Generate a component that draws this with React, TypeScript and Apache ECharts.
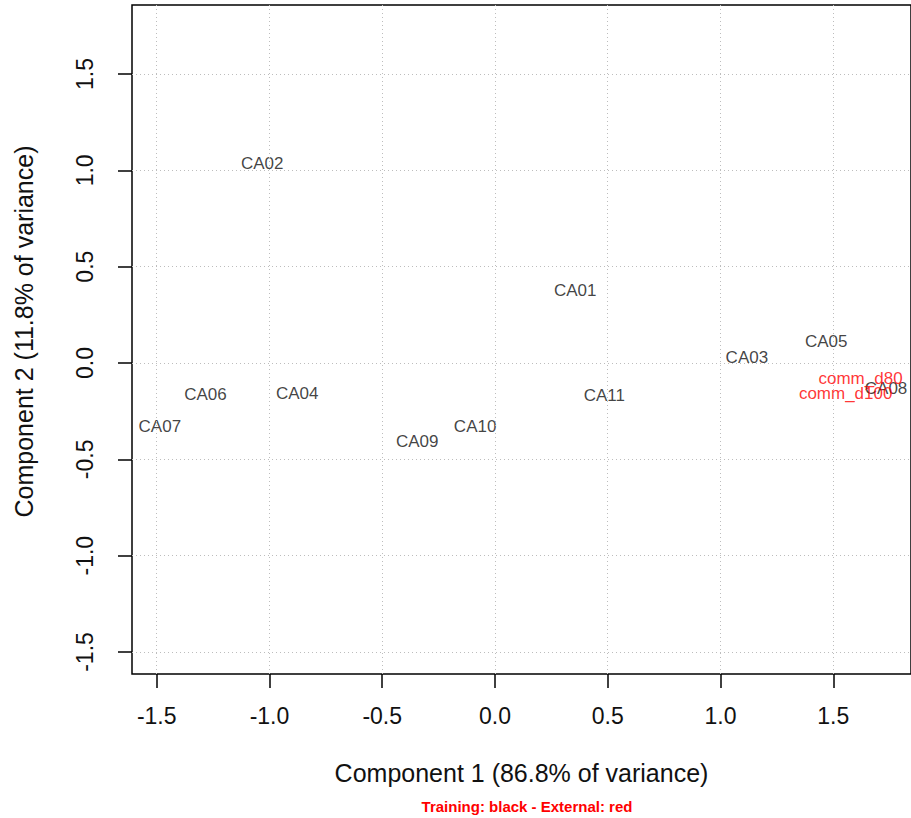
import React, { useEffect, useRef } from "react";
import * as echarts from "echarts";

const trainingNames = ["CA01", "CA02", "CA03", "CA04", "CA05", "CA06", "CA07", "CA08", "CA09", "CA10", "CA11"];
const trainingX = [0.356, -1.032, 1.117, -0.877, 1.469, -1.284, -1.486, 1.734, -0.345, -0.088, 0.485];
const trainingY = [0.374, 1.033, 0.031, -0.156, 0.114, -0.166, -0.332, -0.13, -0.41, -0.332, -0.171];

const externalNames = ["comm_d80", "comm_d100"];
const externalX = [1.621, 1.555];
const externalY = [-0.083, -0.156];

const xTicks = [-1.5, -1.0, -0.5, 0.0, 0.5, 1.0, 1.5];
const yTicks = [-1.5, -1.0, -0.5, 0.0, 0.5, 1.0, 1.5];

const xTitle = "Component 1 (86.8% of variance)";
const yTitle = "Component 2 (11.8% of variance)";
const subtitle = "Training: black - External: red";

export default function App() {
  const ref = useRef<HTMLDivElement>(null);
  useEffect(() => {
    document.body.style.margin = "0";
    if (!ref.current) return;
    const chart = echarts.init(ref.current, null, { renderer: "svg" });
    const font = "'Liberation Sans', Arial, Helvetica, sans-serif";
    const textColor = "#111111";
    const gridLine = { type: [1, 3] as any, color: "#bdbdbd", width: 1 };
    chart.setOption({
      animation: false,
      backgroundColor: "#ffffff",
      textStyle: { fontFamily: font },
      title: {
        text: subtitle,
        left: 522,
        top: 794,
        textAlign: "center",
        textStyle: { color: "#ff0000", fontSize: 15, fontWeight: "bold", fontFamily: font },
      },
      grid: {
        left: 132,
        top: 5,
        width: 781,
        height: 669,
        show: true,
        borderColor: "#000",
        borderWidth: 1.5,
        containLabel: false,
      },
      xAxis: {
        type: "value",
        min: -1.6095,
        max: 1.8447,
        name: xTitle,
        nameLocation: "middle",
        nameGap: 86,
        nameTextStyle: { fontSize: 25, color: textColor, fontFamily: font },
        axisLine: { show: false, onZero: false },
        axisTick: {
          show: true,
          customValues: xTicks,
          length: 14,
          inside: false,
          lineStyle: { color: "#000", width: 1.5 },
        },
        axisLabel: {
          customValues: xTicks,
          formatter: (v: number) => v.toFixed(1),
          fontSize: 23,
          color: textColor,
          margin: 30,
          fontFamily: font,
        },
        splitLine: { show: false },
      },
      yAxis: {
        type: "value",
        min: -1.6142,
        max: 1.8581,
        name: yTitle,
        nameLocation: "middle",
        nameRotate: 90,
        nameGap: 96,
        nameTextStyle: { fontSize: 25, color: textColor, fontFamily: font, padding: [0, 0, 0, 16] },
        axisLine: { show: false, onZero: false },
        axisTick: {
          show: true,
          customValues: yTicks,
          length: 14,
          inside: false,
          lineStyle: { color: "#000", width: 1.5 },
        },
        axisLabel: {
          customValues: yTicks,
          formatter: (v: number) => v.toFixed(1),
          fontSize: 23,
          rotate: 90,
          color: textColor,
          margin: 36,
          fontFamily: font,
        },
        splitLine: { show: false },
      },
      series: [
        {
          type: "scatter",
          name: "grid",
          data: [],
          silent: true,
          markLine: {
            silent: true,
            symbol: ["none", "none"],
            label: { show: false },
            lineStyle: gridLine,
            emphasis: { disabled: true },
            data: [
              ...xTicks.map((v) => ({ xAxis: v })),
              ...yTicks.map((v) => ({ yAxis: v })),
            ],
          },
        },
        {
          type: "scatter",
          name: "Training",
          symbolSize: 0,
          silent: true,
          data: trainingNames.map((n, i) => ({ name: n, value: [trainingX[i], trainingY[i]] })),
          label: {
            show: true,
            position: "inside",
            formatter: (p: any) => p.name,
            color: textColor,
            fontSize: 17,
            fontFamily: font,
          },
        },
        {
          type: "scatter",
          name: "External",
          symbolSize: 0,
          silent: true,
          data: externalNames.map((n, i) => ({ name: n, value: [externalX[i], externalY[i]] })),
          label: {
            show: true,
            position: "inside",
            formatter: (p: any) => p.name,
            color: "#ff0000",
            fontSize: 17,
            fontFamily: font,
          },
        },
      ],
    });
    return () => chart.dispose();
  }, []);
  return <div ref={ref} style={{ width: 911, height: 818 }} />;
}
